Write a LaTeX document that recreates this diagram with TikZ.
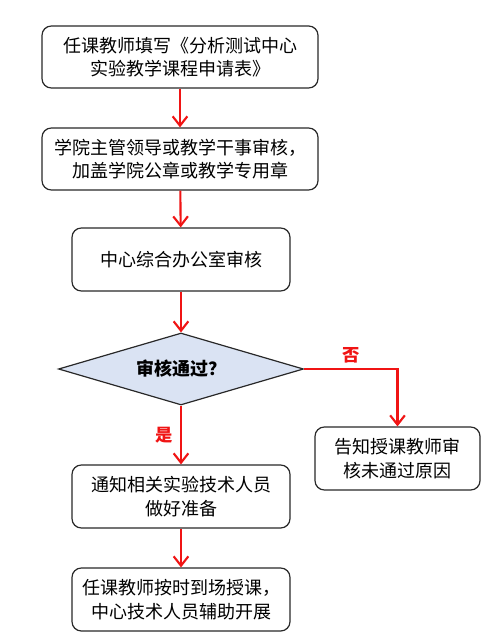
\documentclass[tikz,border=0pt]{standalone}
\usepackage{fontspec}
\setmainfont{Noto Sans CJK SC}
\usepackage{xcolor}
\usetikzlibrary{arrows.meta,positioning,shapes.geometric}
\definecolor{FlowRed}{RGB}{240,20,20}
\definecolor{DiaFill}{RGB}{218,227,243}
\definecolor{EdgeGray}{RGB}{40,40,40}
\tikzset{
  stepbox/.style={rectangle,rounded corners=7pt,draw=EdgeGray,line width=0.9pt,
                  align=center,inner sep=0pt,font=\fontsize{13.5}{17.5}\selectfont},
  check/.style={diamond,shape aspect=3.4,draw=EdgeGray,line width=0.9pt,fill=DiaFill,inner sep=0pt,
                font=\fontsize{13.5}{17.5}\selectfont\bfseries},
  flow/.style={-{Straight Barb[length=7pt,width=11pt,line width=1.6pt]},line width=1.6pt,FlowRed},
  ans/.style={text=FlowRed,font=\fontsize{13}{15}\selectfont\bfseries},
}
\begin{document}
\begin{tikzpicture}[x=0.75pt,y=-0.75pt]
  \useasboundingbox (0,0) rectangle (483,641);

  \node[stepbox,minimum width=276pt*0.75,minimum height=62pt*0.75] (apply) at (180,57)
  {任课教师填写《分析测试中心\\实验教学课程申请表》};

  \node[stepbox,minimum width=276pt*0.75,minimum height=62pt*0.75] (dean) at (180,159)
  {学院主管领导或教学干事审核，\\加盖学院公章或教学专用章};

  \node[stepbox,minimum width=218pt*0.75,minimum height=63pt*0.75] (office) at (181,259.5)
  {中心综合办公室审核};

  \node[check,minimum width=245pt*0.75,minimum height=72pt*0.75] (pass) at (181,369)
  {审核通过？};

  \node[stepbox,minimum width=165pt*0.75,minimum height=63pt*0.75] (reject) at (397.5,458.5)
  {告知授课教师审\\核未通过原因};

  \node[stepbox,minimum width=218pt*0.75,minimum height=63pt*0.75] (notify) at (181,496.5)
  {通知相关实验技术人员\\做好准备};

  \node[stepbox,minimum width=218pt*0.75,minimum height=63pt*0.75] (teach) at (181,599.5)
  {任课教师按时到场授课，\\中心技术人员辅助开展};

  \draw[flow] (apply) -- (dean);
  \draw[flow] (dean) -- (office);
  \draw[flow] (office) -- (pass);
  \draw[flow] (pass) -- node[ans,left=2pt,pos=0.5] {是} (notify);
  \draw[flow] (pass.east) -| node[ans,above,pos=0.25] {否} (reject.north);
  \draw[flow] (notify) -- (teach);
\end{tikzpicture}
\end{document}
